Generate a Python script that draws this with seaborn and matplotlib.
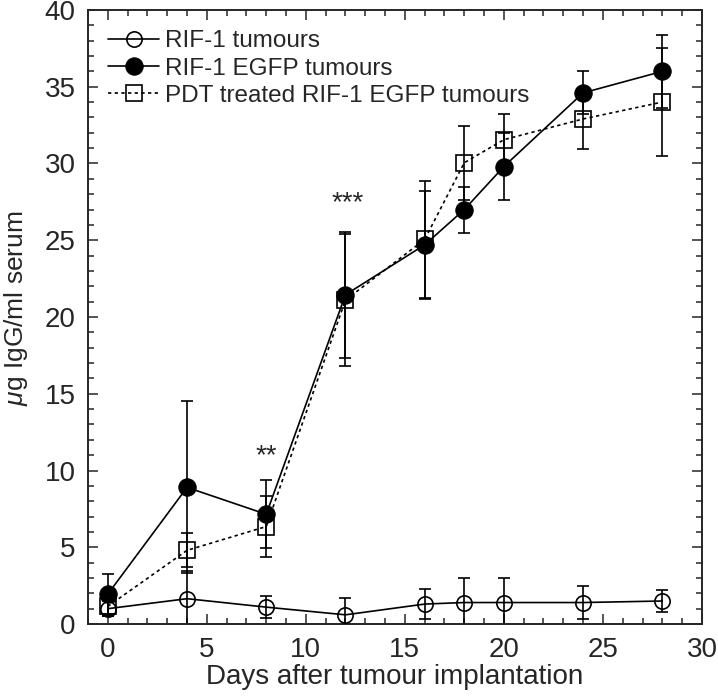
import numpy as np
import pandas as pd
import matplotlib
matplotlib.use('Agg')
import matplotlib.pyplot as plt
import seaborn as sns
from matplotlib.ticker import MultipleLocator

# data
days = [0, 4, 8, 12, 16, 18, 20, 24, 28]
rif = [1.0, 1.65, 1.1, 0.6, 1.3, 1.4, 1.4, 1.4, 1.5]
rif_err = [0.5, 1.8, 0.7, 1.1, 1.0, 1.6, 1.6, 1.1, 0.7]
egfp = [1.95, 8.9, 7.15, 21.45, 24.7, 27.0, 29.8, 34.6, 36.0]
egfp_err = [1.3, 5.6, 2.2, 4.1, 3.5, 1.5, 2.2, 1.4, 2.4]
pdt = [1.15, 4.8, 6.35, 21.1, 25.05, 30.05, 31.55, 32.9, 34.0]
pdt_err = [0.6, 1.1, 2.0, 4.3, 3.8, 2.4, 1.65, 1.95, 3.5]

labels = ['RIF-1 tumours', 'RIF-1 EGFP tumours', 'PDT treated RIF-1 EGFP tumours']
signif = [(8, 10.9, '**'), (12.1, 27.4, '***')]

sns.set_style('ticks')
plt.rcParams['font.family'] = ['Liberation Sans', 'DejaVu Sans']
plt.rcParams['mathtext.fontset'] = 'custom'
plt.rcParams['mathtext.it'] = 'Liberation Sans:italic'
plt.rcParams['mathtext.rm'] = 'Liberation Sans'

fig = plt.figure(figsize=(7.18, 6.97), dpi=100)
ax = fig.add_axes([0.1226, 0.1047, 0.855, 0.881])

lw = 1.2
err_kw = dict(fmt='none', ecolor='black', elinewidth=lw, capsize=4, capthick=lw)

# error bars first, markers on top
ax.errorbar(days, pdt, yerr=pdt_err, zorder=2, **err_kw)
ax.errorbar(days, rif, yerr=rif_err, zorder=2, **err_kw)
ax.errorbar(days, egfp, yerr=egfp_err, zorder=2, **err_kw)

sns.lineplot(x=days, y=rif, ax=ax, color='black', linewidth=lw, marker='o',
             markersize=11, markerfacecolor='none', markeredgecolor='black',
             markeredgewidth=lw, label=labels[0], zorder=3)
sns.lineplot(x=days, y=pdt, ax=ax, color='black', linewidth=lw, linestyle=(0, (2, 2)),
             marker='s', markersize=11, markerfacecolor='none', markeredgecolor='black',
             markeredgewidth=lw, label=labels[2], zorder=3)
sns.lineplot(x=days, y=egfp, ax=ax, color='black', linewidth=lw, marker='o',
             markersize=12.5, markerfacecolor='black', markeredgecolor='black',
             label=labels[1], zorder=4)

for x, y, s in signif:
    ax.text(x, y, s, ha='center', va='center', fontsize=20)

ax.set_xlim(-1, 30)
ax.set_ylim(0, 40)
ax.xaxis.set_major_locator(MultipleLocator(5))
ax.xaxis.set_minor_locator(MultipleLocator(1))
ax.yaxis.set_major_locator(MultipleLocator(5))
ax.yaxis.set_minor_locator(MultipleLocator(1))
ax.tick_params(which='both', direction='in', top=True, right=True, width=1.1,
               labelsize=20, pad=9)
ax.tick_params(which='major', length=7)
ax.tick_params(which='minor', length=4.5)
for sp in ax.spines.values():
    sp.set_linewidth(1.4)
    sp.set_visible(True)

ax.set_xlabel('Days after tumour implantation', fontsize=20, labelpad=1)
ax.set_ylabel(r'$\mu$g IgG/ml serum', fontsize=19)
ax.yaxis.set_label_coords(-0.0945, 0.515)

h, l = ax.get_legend_handles_labels()
order = [l.index(s) for s in labels]
ax.legend([h[i] for i in order], [l[i] for i in order], loc='upper left',
          bbox_to_anchor=(0.033, 0.967), frameon=False, fontsize=17.5,
          handlelength=2.1, handletextpad=0.25, labelspacing=0.22, borderpad=0,
          borderaxespad=0)

fig.savefig('out.png', dpi=100)
